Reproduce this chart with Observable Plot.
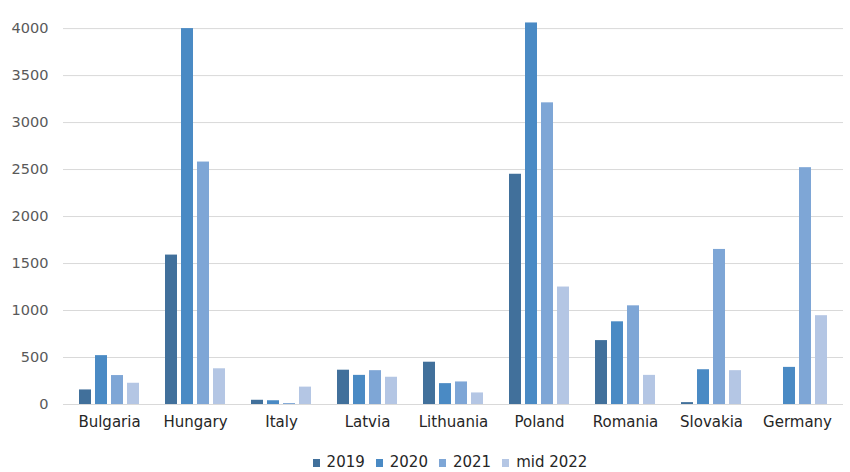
<!DOCTYPE html>
<html>
<head>
<meta charset="utf-8">
<script src="https://cdn.jsdelivr.net/npm/d3@7"></script>
<script src="https://cdn.jsdelivr.net/npm/@observablehq/plot@0.6"></script>
<style>
  html, body { margin: 0; padding: 0; background: #fff; }
  body { width: 850px; height: 472px; overflow: hidden; font-family: "DejaVu Sans", sans-serif; }
  #chart { position: relative; width: 850px; height: 440px; }
  #chart svg { position: absolute; left: 0; top: 0; }
  #legend { display: flex; justify-content: center; gap: 11px; height: 32px; box-sizing: border-box; padding-top: 14px; font-size: 15px; line-height: 16px; color: #262626; margin-left: 50px; }
  #legend .item { display: flex; align-items: flex-end; gap: 7px; height: 16px; }
  #legend .sw { width: 7px; height: 8px; margin-bottom: 3px; }
</style>
</head>
<body>
<div id="chart"></div>
<div id="legend"></div>
<script>
const countries = ["Bulgaria", "Hungary", "Italy", "Latvia", "Lithuania", "Poland", "Romania", "Slovakia", "Germany"];
const series = ["2019", "2020", "2021", "mid 2022"];
const colors = ["#41709b", "#4a8ac4", "#7ea6d6", "#b4c6e4"];
const v2019 = [155, 1590, 45, 365, 450, 2450, 680, 20, 0];
const v2020 = [520, 4000, 40, 310, 222, 4060, 880, 370, 395];
const v2021 = [308, 2580, 10, 360, 240, 3210, 1050, 1650, 2520];
const vMid2022 = [226, 380, 185, 290, 123, 1250, 310, 360, 945];
const yTicks = [0, 500, 1000, 1500, 2000, 2500, 3000, 3500, 4000];

const allValues = [v2019, v2020, v2021, vMid2022];
const data = [];
countries.forEach((c, i) => {
  series.forEach((s, j) => data.push({country: c, series: s, value: allValues[j][i]}));
});

const common = {
  width: 850,
  height: 440,
  marginLeft: 63,
  marginRight: 7,
  marginTop: 14,
  marginBottom: 36,
  y: {domain: [0, 4150], label: null}
};
const font = "'DejaVu Sans', sans-serif";

// Background: continuous gridlines and y axis
const back = Plot.plot({
  ...common,
  style: {fontFamily: font, background: "#fff"},
  marks: [
    Plot.gridY(yTicks, {stroke: "#d9d9d9", strokeOpacity: 1}),
    Plot.axisY(yTicks, {tickSize: 0, tickPadding: 15, fontSize: 14.5, fill: "#595959", label: null, tickFormat: d3.format("d")})
  ]
});

// Foreground: grouped bars faceted by country
const front = Plot.plot({
  ...common,
  style: {fontFamily: font, background: "transparent"},
  fx: {domain: countries, paddingInner: 0.3, paddingOuter: 0.15, label: null},
  x: {domain: series, paddingInner: 0.25, paddingOuter: 0, axis: null},
  color: {domain: series, range: colors},
  marks: [
    Plot.axisY({ticks: [], label: null}),
    Plot.axisFx({anchor: "bottom", tickSize: 0, tickPadding: 12, fontSize: 15, fill: "#262626", label: null}),
    Plot.barY(data, {fx: "country", x: "series", y: "value", fill: "series"})
  ]
});
const holder = document.getElementById("chart");
holder.appendChild(back);
holder.appendChild(front);

const legend = document.getElementById("legend");
series.forEach((s, i) => {
  const item = document.createElement("div");
  item.className = "item";
  const sw = document.createElement("span");
  sw.className = "sw";
  sw.style.background = colors[i];
  const t = document.createElement("span");
  t.textContent = s;
  item.appendChild(sw);
  item.appendChild(t);
  legend.appendChild(item);
});
</script>
</body>
</html>
